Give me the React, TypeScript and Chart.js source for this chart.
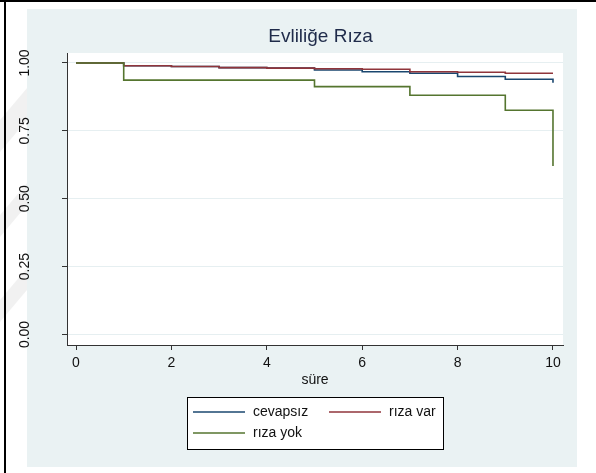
import React, { useEffect, useRef } from "react";
import { Chart, registerables } from "chart.js";

Chart.register(...registerables);

// ---- data ----
const times = [0, 1, 2, 3, 4, 5, 6, 7, 8, 9, 10];
const cevapsiz = [1, 0.99, 0.987, 0.983, 0.981, 0.974, 0.968, 0.962, 0.95, 0.94, 0.927];
const rizaVar = [1, 0.99, 0.987, 0.983, 0.981, 0.979, 0.977, 0.968, 0.966, 0.962, 0.962];
const rizaYok = [1, 0.937, 0.937, 0.937, 0.937, 0.913, 0.913, 0.881, 0.881, 0.826, 0.621];
const seriesNames = ["cevapsız", "rıza var", "rıza yok"];
const seriesColors = ["#1A476F", "#90353B", "#55752F"];
const xTickValues = [0, 2, 4, 6, 8, 10];
const yTickValues = [0, 0.25, 0.5, 0.75, 1];
const yTickLabels = ["0.00", "0.25", "0.50", "0.75", "1.00"];
const chartTitle = "Evliliğe Rıza";
const xAxisTitle = "süre";

const FONT = "'Liberation Sans', Arial, sans-serif";

const backgroundPlugin = {
  id: "stataBackground",
  beforeDraw(chart: any) {
    const { ctx, chartArea } = chart;
    ctx.save();
    ctx.fillStyle = "#FFFFFF";
    ctx.fillRect(0, 0, chart.width, chart.height);
    // faint watermark stripes on the left margin
    ctx.fillStyle = "rgba(0,0,0,0.055)";
    const stripes = [
      [[0, 120], [27, 88], [27, 120], [0, 152]],
      [[0, 215], [27, 183], [27, 205], [0, 237]],
      [[0, 300], [27, 268], [27, 290], [0, 322]],
    ];
    stripes.forEach((p) => {
      ctx.beginPath();
      ctx.moveTo(p[0][0], p[0][1]);
      for (let i = 1; i < p.length; i++) ctx.lineTo(p[i][0], p[i][1]);
      ctx.closePath();
      ctx.fill();
    });
    // black frame lines
    ctx.fillStyle = "#000000";
    ctx.fillRect(0, 0, chart.width, 2);
    ctx.fillRect(4, 0, 2, chart.height);
    // graph region
    ctx.fillStyle = "#EAF2F3";
    ctx.fillRect(27, 9, 550, 458);
    // plot region
    ctx.fillStyle = "#FFFFFF";
    ctx.fillRect(chartArea.left, chartArea.top, chartArea.right - chartArea.left, chartArea.bottom - chartArea.top);
    ctx.restore();
  },
};

const decorPlugin = {
  id: "stataDecor",
  afterDraw(chart: any) {
    const { ctx } = chart;
    ctx.save();
    // title
    ctx.fillStyle = "#1F2B4A";
    ctx.font = `19px ${FONT}`;
    ctx.textAlign = "center";
    ctx.textBaseline = "middle";
    ctx.fillText(chartTitle, 320.5, 37);
    // legend box
    const bx = 187, by = 397, bw = 256, bh = 52;
    ctx.fillStyle = "#FFFFFF";
    ctx.fillRect(bx, by, bw, bh);
    ctx.strokeStyle = "#000000";
    ctx.lineWidth = 1;
    ctx.strokeRect(bx + 0.5, by + 0.5, bw, bh);
    const slots = [
      { x: 193, y: 412 },
      { x: 329, y: 412 },
      { x: 193, y: 433 },
    ];
    ctx.font = `14px ${FONT}`;
    ctx.textAlign = "left";
    ctx.textBaseline = "middle";
    chart.data.datasets.forEach((ds: any, i: number) => {
      const s = slots[i];
      ctx.strokeStyle = ds.borderColor;
      ctx.lineWidth = 1.6;
      ctx.beginPath();
      ctx.moveTo(s.x, s.y);
      ctx.lineTo(s.x + 52, s.y);
      ctx.stroke();
      ctx.fillStyle = "#111111";
      ctx.fillText(ds.label, s.x + 60, s.y);
    });
    ctx.restore();
  },
};

export default function App() {
  const ref = useRef<HTMLCanvasElement | null>(null);

  useEffect(() => {
    if (!ref.current) return;
    Chart.defaults.font.family = FONT;
    const series = [cevapsiz, rizaVar, rizaYok];
    const chart = new Chart(ref.current, {
      type: "line",
      data: {
        datasets: series.map((vals, i) => ({
          label: seriesNames[i],
          data: times.map((t, j) => ({ x: t, y: vals[j] })),
          borderColor: seriesColors[i],
          backgroundColor: seriesColors[i],
          borderWidth: 1.6,
          pointRadius: 0,
          stepped: true,
          fill: false,
          order: 3 - i,
        })),
      },
      options: {
        animation: false,
        responsive: false,
        devicePixelRatio: 1,
        layout: { padding: { left: 0, right: 33, top: 53, bottom: 0 } },
        plugins: {
          legend: { display: false },
          title: { display: false },
          tooltip: { enabled: false },
        },
        scales: {
          x: {
            type: "linear",
            min: -0.189,
            max: 10.21,
            afterBuildTicks: (s: any) => {
              s.ticks = xTickValues.map((v) => ({ value: v }));
            },
            afterFit: (s: any) => {
              s.height = 128;
            },
            ticks: {
              autoSkip: false,
              maxRotation: 0,
              minRotation: 0,
              padding: 5,
              color: "#111111",
              font: { size: 14, family: FONT },
              callback: (v: any) => String(v),
            },
            grid: {
              drawOnChartArea: false,
              tickLength: 5,
              tickColor: "#333333",
              tickWidth: 1,
            },
            border: { display: true, color: "#333333", width: 1 },
            title: {
              display: true,
              text: xAxisTitle,
              color: "#111111",
              font: { size: 14, family: FONT },
              padding: { top: 0, bottom: 84.6 },
            },
          },
          y: {
            type: "linear",
            min: -0.0387,
            max: 1.0368,
            afterBuildTicks: (s: any) => {
              s.ticks = yTickValues.map((v) => ({ value: v }));
            },
            afterFit: (s: any) => {
              s.width = 67;
            },
            ticks: {
              autoSkip: false,
              minRotation: 90,
              maxRotation: 90,
              crossAlign: "center",
              padding: 23,
              color: "#111111",
              font: { size: 14, family: FONT },
              callback: (v: any) => {
                const idx = yTickValues.indexOf(v);
                return idx >= 0 ? yTickLabels[idx] : "";
              },
            },
            grid: {
              drawOnChartArea: true,
              color: "#E6EFF1",
              lineWidth: 1,
              tickLength: 5,
              tickColor: "#333333",
              tickWidth: 1,
            },
            border: { display: true, color: "#333333", width: 1 },
          },
        },
      },
      plugins: [backgroundPlugin, decorPlugin],
    } as any);
    return () => chart.destroy();
  }, []);

  return (
    <div style={{ position: "fixed", left: 0, top: 0, width: 596, height: 473 }}>
      <canvas ref={ref} width={596} height={473} style={{ display: "block", width: 596, height: 473 }} />
    </div>
  );
}
